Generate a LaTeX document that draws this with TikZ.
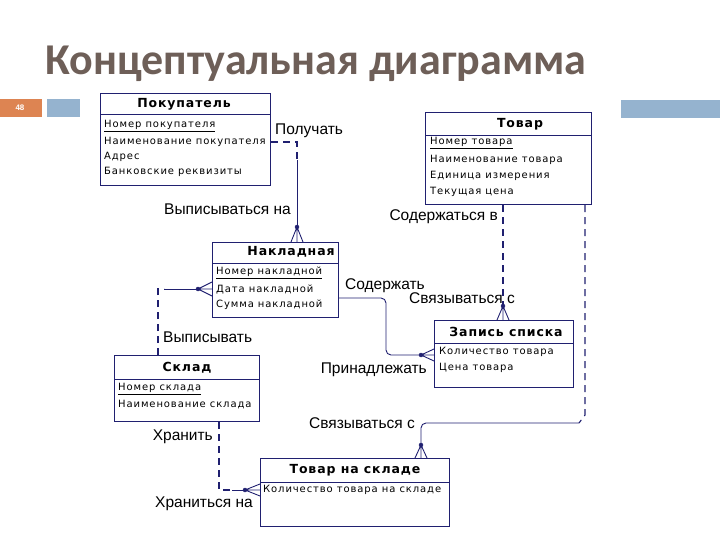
\documentclass[tikz,border=0pt]{standalone}
\usepackage{fontspec}
\setmainfont{Liberation Sans}
\newfontfamily\titlefont{Carlito}
\newfontfamily\hdrfont[LetterSpace=7]{DejaVu Sans}
\newfontfamily\attrfont[LetterSpace=9]{DejaVu Sans}
\definecolor{erblue}{RGB}{32,32,112}
\definecolor{titlebrown}{RGB}{110,95,88}
\definecolor{bandblue}{RGB}{149,179,207}
\definecolor{pageorange}{RGB}{221,132,82}
\tikzset{
  entity/.style={draw=erblue,line width=1.2pt,fill=white,inner sep=0pt,anchor=north west},
  hdr/.style={font=\hdrfont\bfseries\fontsize{12.5}{14}\selectfont,inner sep=0pt},
  attr/.style={font=\attrfont\fontsize{10}{12}\selectfont,anchor=west,inner sep=0pt},
  rel/.style={font=\fontsize{15.5}{17}\selectfont,inner sep=0pt},
  link/.style={draw=erblue,line width=0.9pt},
  optional/.style={link,dashed,dash pattern=on 7pt off 5pt,line width=1.1pt}
}
\begin{document}
\begin{tikzpicture}[x=1pt,y=-1pt]
\useasboundingbox (0,0) rectangle (720,540);

% Title and slide band
\node[anchor=base west,inner sep=0pt,text=titlebrown,font=\titlefont\bfseries\fontsize{44}{48}\selectfont] (title) at (45,75) {Концептуальная диаграмма};
\fill[pageorange] (0,99) rectangle (42,117);
\fill[bandblue] (47,99) rectangle (80,117);
\fill[bandblue] (621,100) rectangle (720,118);
\node[text=white,font=\bfseries\fontsize{8}{9}\selectfont] (pagenum) at (20,108) {48};

% Покупатель
\node[entity,minimum width=170pt,minimum height=92pt] (buyer) at (100,93) {};
\draw[erblue,line width=1pt] (100,115) -- (270,115);
\node[hdr] (buyerhdr) at (184,104) {Покупатель};
\node[attr] (buyer1) at (104,126) {\underline{Номер покупателя}};
\node[attr] (buyer2) at (104,142) {Наименование покупателя};
\node[attr] (buyer3) at (104,157) {Адрес};
\node[attr] (buyer4) at (104,172) {Банковские реквизиты};

% Товар
\node[entity,minimum width=166pt,minimum height=92pt] (goods) at (425,112) {};
\draw[erblue,line width=1pt] (425,136) -- (591,136);
\node[hdr] (goodshdr) at (520,124) {Товар};
\node[attr] (goods1) at (430,143) {\underline{Номер товара}};
\node[attr] (goods2) at (430,160) {Наименование товара};
\node[attr] (goods3) at (430,176) {Единица измерения};
\node[attr] (goods4) at (430,192) {Текущая цена};

% Накладная
\node[entity,minimum width=126pt,minimum height=75pt] (invoice) at (212,242) {};
\draw[erblue,line width=1pt] (212,263) -- (338,263);
\node[hdr] (invoicehdr) at (291,252) {Накладная};
\node[attr] (invoice1) at (216,273) {\underline{Номер накладной}};
\node[attr] (invoice2) at (216,289) {Дата накладной};
\node[attr] (invoice3) at (216,305) {Сумма накладной};

% Склад
\node[entity,minimum width=145pt,minimum height=66pt] (store) at (114,355) {};
\draw[erblue,line width=1pt] (114,379) -- (259,379);
\node[hdr] (storehdr) at (187,368) {Склад};
\node[attr] (store1) at (118,389) {\underline{Номер склада}};
\node[attr] (store2) at (118,405) {Наименование склада};

% Запись списка
\node[entity,minimum width=139pt,minimum height=67pt] (item) at (434,320) {};
\draw[erblue,line width=1pt] (434,343) -- (573,343);
\node[hdr] (itemhdr) at (506,332) {Запись списка};
\node[attr] (item1) at (439,352) {Количество товара};
\node[attr] (item2) at (439,368) {Цена товара};

% Товар на складе
\node[entity,minimum width=189pt,minimum height=68pt] (stock) at (260,458) {};
\draw[erblue,line width=1pt] (260,482) -- (449,482);
\node[hdr] (stockhdr) at (355,470) {Товар на складе};
\node[attr] (stock1) at (263,490) {Количество товара на складе};

% Покупатель -- Накладная
\coordinate (r1a) at (297,160);
\coordinate (r1b) at (297,227);
\draw[optional] (buyer.east |- buyer2) -| (r1a);
\draw[link] (r1a) -- (r1b);
\filldraw[erblue] (r1b) circle (2);
\draw[link] (r1b) -- (291,242) (r1b) -- (297,242) (r1b) -- (303,242);
\node[rel,anchor=west] (lgets) at (275,131) {Получать};
\node[rel,anchor=east] (lissued) at (291,209) {Выписываться на};

% Товар -- Запись списка
\coordinate (r2) at (503,306);
\draw[optional] (goods.south -| r2) -- (r2);
\filldraw[erblue] (r2) circle (2);
\draw[link] (r2) -- (497,320) (r2) -- (503,320) (r2) -- (509,320);
\node[rel,anchor=east] (lcontained) at (498,217) {Содержаться в};
\node[rel,anchor=east] (llinked1) at (515,298) {Связываться с};

% Накладная -- Запись списка
\coordinate (r3) at (421,355);
\draw[link,rounded corners=5pt] (invoice.east |- 0,298) -| (386,355) -- (r3);
\filldraw[erblue] (r3) circle (2);
\draw[link] (r3) -- (434,349) (r3) -- (434,355) (r3) -- (434,361);
\node[rel,anchor=west] (lcontains) at (345,286) {Содержать};
\node[rel,anchor=east] (lbelongs) at (427,370) {Принадлежать};

% Склад -- Накладная
\coordinate (r4a) at (164,289);
\coordinate (r4b) at (198,289);
\draw[optional] (store.north -| 158,0) |- (r4a);
\draw[link] (r4a) -- (r4b);
\filldraw[erblue] (r4b) circle (2);
\draw[link] (r4b) -- (212,282) (r4b) -- (212,289) (r4b) -- (212,296);
\node[rel,anchor=west] (lissues) at (163,337) {Выписывать};

% Склад -- Товар на складе
\coordinate (r5a) at (232,490);
\coordinate (r5b) at (245,490);
\draw[optional] (store.south -| 219,0) |- (r5a);
\draw[link] (r5a) -- (r5b);
\filldraw[erblue] (r5b) circle (2);
\draw[link] (r5b) -- (260,484) (r5b) -- (260,490) (r5b) -- (260,496);
\node[rel,anchor=east] (lkeeps) at (213,437) {Хранить};
\node[rel,anchor=west] (lkept) at (155,504) {Храниться на};

% Товар -- Товар на складе
\coordinate (r6a) at (585,415);
\coordinate (r6b) at (579,423);
\coordinate (r6c) at (421,445);
\draw[optional] (goods.south -| r6a) -- (r6a) -- (r6b);
\draw[link,rounded corners=5pt] (r6b) -- (421,423) -- (r6c);
\filldraw[erblue] (r6c) circle (2);
\draw[link] (r6c) -- (415,458) (r6c) -- (421,458) (r6c) -- (427,458);
\node[rel,anchor=east] (llinked2) at (415,423) {Связываться с};

\end{tikzpicture}
\end{document}
